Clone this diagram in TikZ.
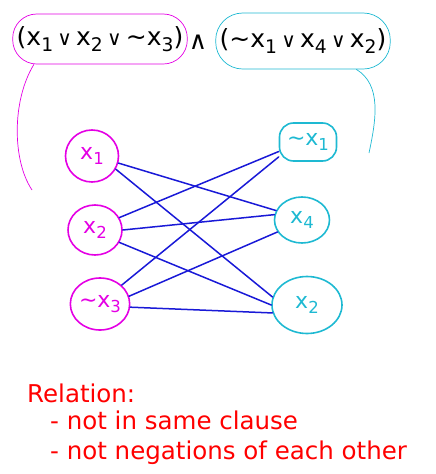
\documentclass[tikz,border=0pt]{standalone}
\usepackage{graphicx}
\usepackage{fontspec}
\setmainfont{DejaVu Sans}
\definecolor{litmagenta}{RGB}{228,0,228}
\definecolor{litcyan}{RGB}{30,185,210}
\definecolor{edgeblue}{RGB}{25,25,215}
\definecolor{notered}{RGB}{255,0,0}
\usetikzlibrary{shapes.geometric}

\newcommand{\lit}[1]{x\raisebox{-0.45ex}{\scalebox{0.75}{#1}}}
\newcommand{\nlit}[1]{\textasciitilde\lit{#1}}
\newcommand{\orv}{\,\scalebox{0.8}{∨}\,}

\begin{document}
\begin{tikzpicture}[x=1pt, y=-1pt,
  clause/.style={draw, rounded corners=24pt, line width=0.7pt, inner xsep=4pt, inner ysep=0pt, minimum height=50pt, font=\fontsize{25}{28}\selectfont},
  litnode/.style={ellipse, line width=1.6pt, inner sep=0pt, font=\fontsize{22}{24}\selectfont},
  posnode/.style={litnode, draw=litmagenta, text=litmagenta},
  negnode/.style={litnode, draw=litcyan, text=litcyan},
  edge/.style={edgeblue, line width=1.5pt, line cap=round}]
  \useasboundingbox (0,0) rectangle (436,474);

  % Formula
  \node[clause, draw=litmagenta] (c1) at (100,39) {(\lit{1}\orv\lit{2}\orv\nlit{3})};
  \node[font=\fontsize{25}{28}\selectfont] (wedge) at (198,42) {∧};
  \node[clause, draw=litcyan, minimum height=56pt, rounded corners=27pt] (c2) at (303,41) {(\nlit{1}\orv\lit{4}\orv\lit{2})};

  % Clause brackets
  \coordinate (magtail) at (32,190);
  \coordinate (cyantail) at (369,153);
  \draw[litmagenta, line width=0.7pt] (c1.201) .. controls (12,100) and (12,160) .. (magtail);
  \draw[litcyan, line width=0.7pt] (c2.-28) .. controls (382,85) and (376,120) .. (cyantail);

  % Literals of clause 1
  \node[posnode, minimum width=53pt, minimum height=52pt] (l1) at (92,156) {\lit{1}};
  \node[posnode, minimum width=54pt, minimum height=50pt] (l2) at (95,230) {\lit{2}};
  \node[posnode, minimum width=56pt, minimum height=52pt] (l3) at (100,304) {\nlit{3}};

  % Literals of clause 2
  \node[negnode, shape=rectangle, rounded corners=14pt, minimum width=57pt, minimum height=38pt] (r1) at (308,142) {\nlit{1}};
  \node[negnode, minimum width=55pt, minimum height=46pt] (r4) at (302,220) {\lit{4}};
  \node[negnode, minimum width=70pt, minimum height=57pt] (r2) at (307,305) {\lit{2}};

  % Edges
  \draw[edge] (l1.-15) -- (r4.160);
  \draw[edge] (l1.-29) -- (r2.167);
  \draw[edge] (l2.27) -- (r1.198);
  \draw[edge] (l2.0) -- (r4.169);
  \draw[edge] (l2.-27) -- (r2.180);
  \draw[edge] (l3.41) -- (r1.207);
  \draw[edge] (l3.15) -- (r4.206);
  \draw[edge] (l3.-6) -- (r2.193);

  % Relation note
  \node[anchor=north west, text=notered, font=\fontsize{24.5}{27}\selectfont, align=left, inner sep=0pt] (note) at (27,384) {Relation:\\\hspace{23pt}- not in same clause\\[3pt]\hspace{23pt}- not negations of each other};
\end{tikzpicture}
\end{document}
